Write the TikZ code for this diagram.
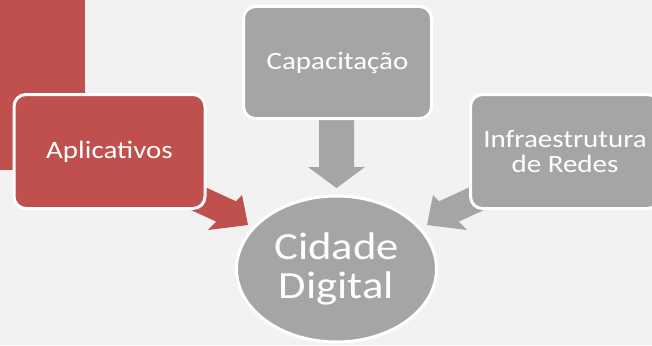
\documentclass[tikz,border=0pt]{standalone}
\usepackage{fontspec}
\usetikzlibrary{shapes.geometric}
\setmainfont{Carlito}[FakeStretch=1.16]
\definecolor{bgc}{HTML}{F2F2F2}
\definecolor{redc}{HTML}{C0504D}
\definecolor{grayc}{HTML}{A5A5A5}
\begin{document}
\begin{tikzpicture}[x=1pt,y=-1pt,
  box/.style={draw=white,line width=3pt,rounded corners=12pt,minimum width=191pt,minimum height=114pt,inner sep=0pt,text=white,align=center,font=\fontsize{25}{25.5}\selectfont},
  bigtext/.style={text=white,align=center,font=\fontsize{38.5}{39}\selectfont,inner sep=0pt}]
\useasboundingbox (0,0) rectangle (652,345);
\clip (0,0) rectangle (652,345);
\fill[bgc] (0,0) rectangle (652,345);
\fill[redc] (0,0) rectangle (85,170);
% block arrows
\fill[redc] (190,180.1) -- (236,201.3) -- (242,195) -- (248,225) -- (208,230) -- (216.2,221.6) -- (180,205) -- cycle;
\fill[grayc] (319,115) -- (354,115) -- (354,167) -- (365,167) -- (336.5,188) -- (308,167) -- (319,167) -- cycle;
\fill[grayc] (485,180.1) -- (439,201.3) -- (433,195) -- (427,225) -- (467,230) -- (458.8,221.6) -- (495,205) -- cycle;
% boxes
\node[box,fill=redc] (apl) at (109.5,151.5) {Aplicativos};
\node[box,fill=grayc,minimum width=188pt,minimum height=112pt] (cap) at (337.5,62.5) {Capacitação};
\node[box,fill=grayc,minimum width=189pt] (inf) at (565,151.5) {Infraestrutura\\de Redes};
% ellipse
\node[ellipse,draw=white,line width=3pt,fill=grayc,minimum width=200pt,minimum height=146pt,inner sep=0pt,bigtext] (cd) at (336.5,269) {Cidade\\Digital};
\end{tikzpicture}
\end{document}
